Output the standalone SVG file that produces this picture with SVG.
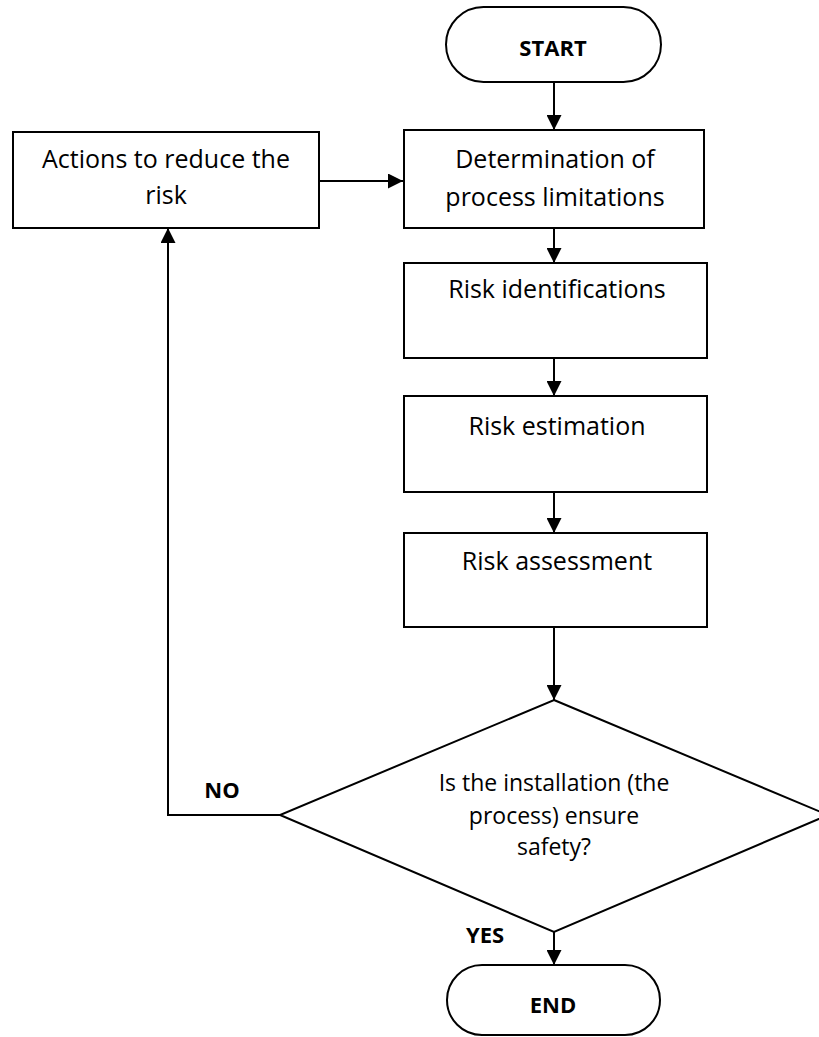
<svg xmlns="http://www.w3.org/2000/svg" width="819" height="1037" viewBox="0 0 819 1037">
<style>
.shape{fill:#fff;stroke:#000;stroke-width:2}
.t{font-family:"Open Sans","Liberation Sans",sans-serif;font-size:25px;fill:#000;text-anchor:middle}
.d{font-size:23px}
.b{font-weight:bold;font-size:22px}
.line{fill:none;stroke:#000;stroke-width:2}
</style>
<defs>
<marker id="arr" markerUnits="userSpaceOnUse" markerWidth="15" markerHeight="15" viewBox="0 0 10 10" refX="10" refY="5" orient="auto">
<path d="M0,0 L10,5 L0,10 z" fill="#000"/>
</marker>
</defs>
<rect width="819" height="1037" fill="#fff"/>
<g id="connectors">
<line class="line" x1="554" y1="82" x2="554" y2="130" marker-end="url(#arr)"/>
<line class="line" x1="554" y1="228" x2="554" y2="263" marker-end="url(#arr)"/>
<line class="line" x1="554" y1="358" x2="554" y2="396" marker-end="url(#arr)"/>
<line class="line" x1="554" y1="492" x2="554" y2="533" marker-end="url(#arr)"/>
<line class="line" x1="554" y1="627" x2="554" y2="700" marker-end="url(#arr)"/>
<line class="line" x1="554" y1="932" x2="554" y2="965" marker-end="url(#arr)"/>
<polyline class="line" points="280,815 168,815 168,228" marker-end="url(#arr)"/>
<line class="line" x1="319" y1="181" x2="403" y2="181" marker-end="url(#arr)"/>
<text class="t b" x="222" y="798">NO</text>
<text class="t b" x="485" y="943">YES</text>
</g>
<g id="start">
<rect class="shape" x="446" y="7" width="215" height="75" rx="37.5"/>
<text class="t b" x="553" y="56">START</text>
</g>
<g id="determination">
<rect class="shape" x="404" y="130" width="300" height="98"/>
<text class="t" x="555" y="168">Determination of</text>
<text class="t" x="555" y="206">process limitations</text>
</g>
<g id="actions">
<rect class="shape" x="13" y="132" width="306" height="96"/>
<text class="t" x="166" y="168">Actions to reduce the</text>
<text class="t" x="166" y="204">risk</text>
</g>
<g id="identification">
<rect class="shape" x="404" y="263" width="303" height="95"/>
<text class="t" x="557" y="298">Risk identifications</text>
</g>
<g id="estimation">
<rect class="shape" x="404" y="396" width="303" height="96"/>
<text class="t" x="557" y="435">Risk estimation</text>
</g>
<g id="assessment">
<rect class="shape" x="404" y="533" width="303" height="94"/>
<text class="t" x="557" y="570">Risk assessment</text>
</g>
<g id="decision">
<polygon class="shape" points="554,700 828,815 554,932 280,815"/>
<text class="t d" x="554" y="791">Is the installation (the</text>
<text class="t d" x="554" y="824">process) ensure</text>
<text class="t d" x="554" y="855">safety?</text>
</g>
<g id="end">
<rect class="shape" x="447" y="965" width="213" height="70" rx="35"/>
<text class="t b" x="553" y="1013">END</text>
</g>
</svg>
